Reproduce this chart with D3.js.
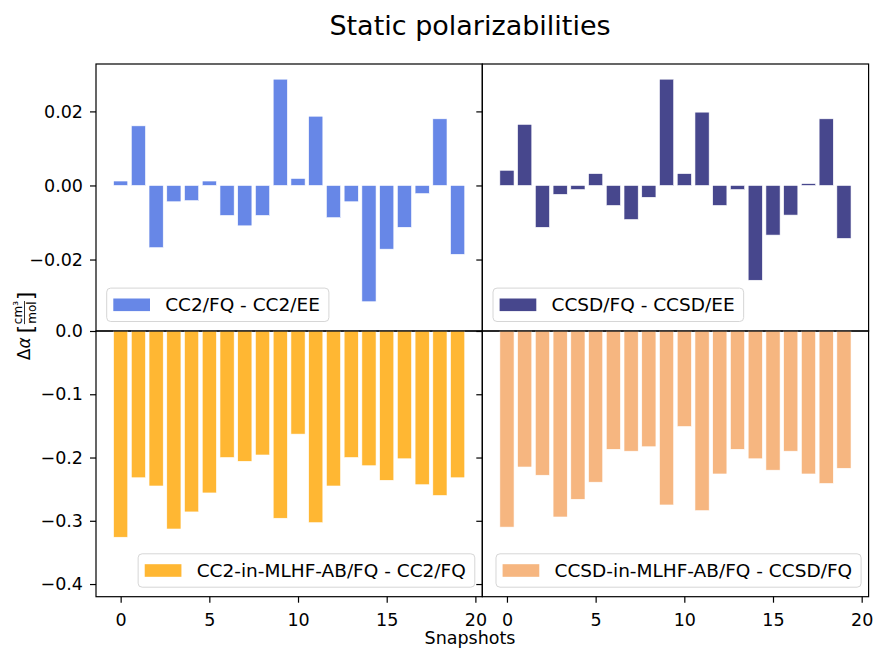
<!DOCTYPE html>
<html>
<head>
<meta charset="utf-8">
<script src="https://cdn.jsdelivr.net/npm/d3@7"></script>
<style>
body { margin: 0; background: #fff; }
text { font-family: "DejaVu Sans", sans-serif; }
</style>
</head>
<body>
<svg id="chart"></svg>
<script>
"use strict";

// snapshot index on the x axis
const snapshots = [0, 1, 2, 3, 4, 5, 6, 7, 8, 9, 10, 11, 12, 13, 14, 15, 16, 17, 18, 19];

// top row: FQ - EE differences
const cc2Diff = [0.0012, 0.0161, -0.0168, -0.0044, -0.0041, 0.0012, -0.0081, -0.0109, -0.0081, 0.0287,
                 0.0019, 0.0187, -0.0087, -0.0044, -0.0314, -0.0172, -0.0113, -0.0022, 0.0180, -0.0186];
const ccsdDiff = [0.0041, 0.0165, -0.0113, -0.0024, -0.0011, 0.0032, -0.0054, -0.0092, -0.0032, 0.0287,
                  0.0032, 0.0198, -0.0054, -0.0011, -0.0256, -0.0134, -0.0080, 0.0005, 0.0180, -0.0143];

// bottom row: in-MLHF-AB/FQ - FQ differences
const cc2MlhfDiff = [-0.326, -0.232, -0.245, -0.313, -0.286, -0.256, -0.200, -0.206, -0.196, -0.296,
                     -0.163, -0.303, -0.245, -0.200, -0.213, -0.236, -0.202, -0.243, -0.260, -0.232];
const ccsdMlhfDiff = [-0.310, -0.215, -0.228, -0.294, -0.266, -0.239, -0.187, -0.190, -0.183, -0.275,
                      -0.151, -0.284, -0.226, -0.187, -0.202, -0.220, -0.190, -0.226, -0.241, -0.217];

const seriesNames = ["CC2/FQ - CC2/EE", "CCSD/FQ - CCSD/EE",
                     "CC2-in-MLHF-AB/FQ - CC2/FQ", "CCSD-in-MLHF-AB/FQ - CCSD/FQ"];

const xTicks = [0, 5, 10, 15, 20];
const yTicksTop = [-0.02, 0, 0.02];
const yTicksBottom = [-0.4, -0.3, -0.2, -0.1, 0];

const width = 878;
const height = 649;
const colLeft = [96, 482.3];
const colWidth = 386.3;
const fontSize = 17.5;
const legendFont = 18.5;

const svg = d3.select("#chart")
    .attr("width", width)
    .attr("height", height);

// scales
const xScales = colLeft.map(x0 => d3.scaleLinear().domain([-1.39, 20.39]).range([x0, x0 + colWidth]));
const yTop = d3.scaleLinear().domain([-0.0393, 0.0328]).range([331, 64]);
const yBottom = d3.scaleLinear().domain([-0.42, 0]).range([596.7, 331]);

const panels = [
    { values: cc2Diff, name: seriesNames[0], color: "royalblue", col: 0, y: yTop, ticks: yTicksTop, fmt: ".2f", legend: "left" },
    { values: ccsdDiff, name: seriesNames[1], color: "midnightblue", col: 1, y: yTop, ticks: yTicksTop, fmt: ".2f", legend: "left" },
    { values: cc2MlhfDiff, name: seriesNames[2], color: "orange", col: 0, y: yBottom, ticks: yTicksBottom, fmt: ".1f", legend: "right" },
    { values: ccsdMlhfDiff, name: seriesNames[3], color: "sandybrown", col: 1, y: yBottom, ticks: yTicksBottom, fmt: ".1f", legend: "right" }
];

panels.forEach(p => {
    const x = xScales[p.col];
    const y = p.y;
    const [yb, yt] = y.range();
    const g = svg.append("g");

    // bars
    g.selectAll("rect.bar")
        .data(snapshots)
        .join("rect")
        .attr("class", "bar")
        .attr("x", i => x(i - 0.4))
        .attr("width", x(0.8) - x(0))
        .attr("y", i => y(Math.max(0, p.values[i])))
        .attr("height", i => Math.abs(y(p.values[i]) - y(0)))
        .attr("fill", p.color)
        .attr("fill-opacity", 0.8)
        .attr("stroke", "#fff")
        .attr("stroke-width", 0.6);

    // y axis (labels only on the left column)
    const yAxis = d3.axisLeft(y)
        .tickValues(p.ticks)
        .tickSize(6)
        .tickPadding(7)
        .tickFormat(p.col === 0 ? d3.format(p.fmt) : "");
    g.append("g")
        .attr("transform", `translate(${x.range()[0]},0)`)
        .call(yAxis)
        .call(a => a.select(".domain").remove())
        .call(a => a.selectAll(".tick line").attr("stroke", "#000").attr("stroke-width", 1.2))
        .call(a => a.selectAll(".tick text")
            .attr("fill", "#000")
            .style("font-family", "DejaVu Sans")
            .style("font-size", fontSize + "px"));

    // x axis on the bottom row
    if (y === yBottom) {
        g.append("g")
            .attr("transform", `translate(0,${yb})`)
            .call(d3.axisBottom(x).tickValues(xTicks).tickSize(6).tickPadding(11))
            .call(a => a.select(".domain").remove())
            .call(a => a.selectAll(".tick line").attr("stroke", "#000").attr("stroke-width", 1.2))
            .call(a => a.selectAll(".tick text")
                .attr("fill", "#000")
                .style("font-family", "DejaVu Sans")
                .style("font-size", fontSize + "px"));
    }

    // frame
    g.append("rect")
        .attr("x", x.range()[0])
        .attr("y", yt)
        .attr("width", colWidth)
        .attr("height", yb - yt)
        .attr("fill", "none")
        .attr("stroke", "#000")
        .attr("stroke-width", 1.2);

    // legend
    const lg = g.append("g");
    const box = lg.append("rect")
        .attr("rx", 4)
        .attr("fill", "#fff")
        .attr("fill-opacity", 0.8)
        .attr("stroke", "#d6d6d6")
        .attr("stroke-width", 1);
    const label = lg.append("text")
        .attr("x", 58.5)
        .attr("y", 23.2)
        .attr("fill", "#000")
        .style("font-size", legendFont + "px")
        .text(p.name);
    lg.append("rect")
        .attr("x", 6.6)
        .attr("y", 10.4)
        .attr("width", 36.7)
        .attr("height", 12.6)
        .attr("fill", p.color)
        .attr("fill-opacity", 0.8);
    const boxW = 58.5 + label.node().getComputedTextLength() + 9;
    const boxH = 33.4;
    box.attr("width", boxW).attr("height", boxH);
    const lx = p.legend === "left" ? x.range()[0] + 10.7 : x.range()[1] - 7.5 - boxW;
    const ly = yb - 9.5 - boxH;
    lg.attr("transform", `translate(${lx},${ly})`);
});

// title
svg.append("text")
    .attr("x", 470)
    .attr("y", 35)
    .attr("text-anchor", "middle")
    .attr("fill", "#000")
    .style("font-size", "27px")
    .text("Static polarizabilities");

// x label
svg.append("text")
    .attr("x", 470)
    .attr("y", 644)
    .attr("text-anchor", "middle")
    .attr("fill", "#000")
    .style("font-size", fontSize + "px")
    .text("Snapshots");

// y label: Δα [cm³/mol]
const yl = svg.append("g").attr("transform", "translate(30,326) rotate(-90)");
const yli = yl.append("g");
let cx = 0;
function piece(t, size, dy, italic) {
    const el = yli.append("text")
        .attr("x", cx)
        .attr("y", dy)
        .attr("fill", "#000")
        .style("font-size", size + "px")
        .text(t);
    if (italic) el.style("font-style", "italic");
    cx += el.node().getComputedTextLength();
}
piece("Δ", 17, 0, false);
piece("α", 17, 0, true);
cx += 4;
piece("[", 21, 3, false);
const fx = cx + 1;
const num = yli.append("text").attr("y", -8.5).attr("fill", "#000").style("font-size", "12px").text("cm³");
const den = yli.append("text").attr("y", 5.5).attr("fill", "#000").style("font-size", "12px").text("mol");
const nw = num.node().getComputedTextLength();
const dw = den.node().getComputedTextLength();
const fw = Math.max(nw, dw);
num.attr("x", fx + (fw - nw) / 2);
den.attr("x", fx + (fw - dw) / 2);
yli.append("line")
    .attr("x1", fx).attr("x2", fx + fw)
    .attr("y1", -5.5).attr("y2", -5.5)
    .attr("stroke", "#000").attr("stroke-width", 0.8);
cx = fx + fw + 1;
piece("]", 21, 3, false);
yli.attr("transform", `translate(${-cx / 2},0)`);
</script>
</body>
</html>
